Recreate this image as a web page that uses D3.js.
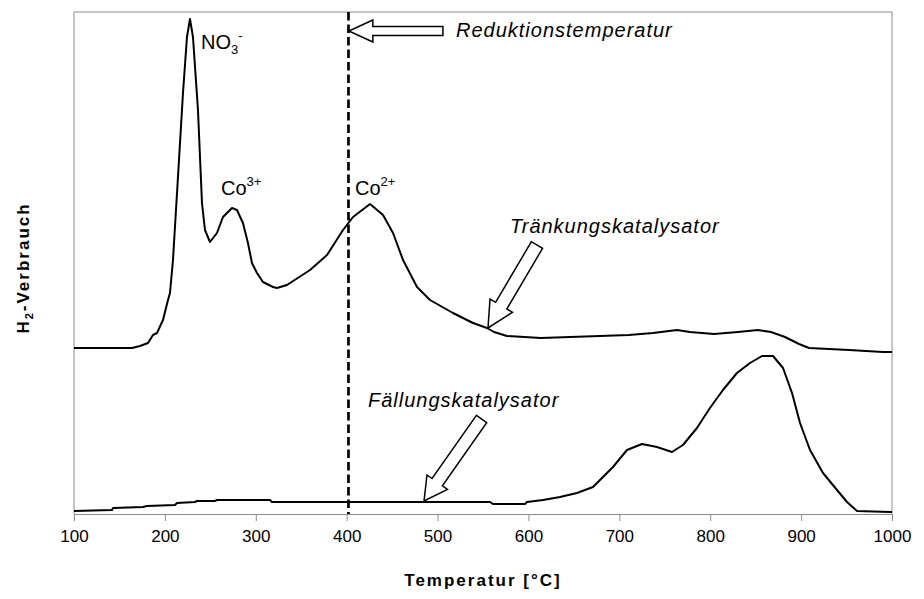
<!DOCTYPE html>
<html>
<head>
<meta charset="utf-8">
<script src="https://cdn.jsdelivr.net/npm/d3@7"></script>
<style>
  body { margin: 0; background: #fff; }
  text { font-family: "Liberation Sans", Arial, sans-serif; fill: #000; }
</style>
</head>
<body>
<div id="chart"></div>
<script>
  // TPR curves: temperature in °C, H2 uptake in arbitrary units
  var traenkT = [100,150.6,163.8,172.6,181.4,186.9,191.3,197.9,203.4,205.6,208.9,214.4,219.9,224.3,227.6,230.9,236.4,240.8,244.1,249.6,257.3,263.9,273.8,279.3,285.9,291.4,295.8,301.3,307.9,318.9,323.3,334.3,359.7,378.4,396,407,425.7,440,451,462,477.4,491.7,517,539,554.4,562.1,576.4,613.8,710.6,737,763.4,777.7,804.1,830.5,852.5,866.8,882.3,897.7,908.7,952.7,990.1,1000];
  var traenkV = [33.2,33.2,33.2,33.6,34.2,35.8,36.2,38.8,42.8,44.2,50.8,67.4,84.2,95.4,99,95.4,80.8,62.2,56.8,54.4,56.2,59.4,61.2,60.8,58.2,54.2,50.2,48.2,46.4,45.4,45.2,45.8,48.8,51.8,56.8,59.4,62,59.8,56.2,50.8,45.4,42.8,40.2,38.2,37.2,36.4,35.6,35.2,35.8,36.2,36.8,36.4,36,36.4,36.8,36.4,35.4,34,33.2,32.8,32.4,32.4];

  var faellT = [100,141.8,142.9,175.9,180.3,211.1,213.3,233.1,235.3,255.1,257.3,315.6,317.8,557.7,561,596.2,598.4,616,634.7,653.4,671,678.7,693,708.4,724.9,741.4,757.9,770,785.4,799.7,814,829.4,843.8,857,869.1,880.1,890,898.8,909.8,924.1,939.5,950.5,961.5,997.8,1000];
  var faellV = [0.6,0.8,1.2,1.4,1.6,1.8,2.2,2.4,2.6,2.6,2.8,2.8,2.4,2.4,2,2,2.4,2.8,3.4,4.2,5.4,6.8,9.4,12.8,14,13.4,12.4,13.8,17.2,21.2,24.8,28.2,30.2,31.6,31.6,29.2,24.2,18.2,12.8,8.2,4.8,2.4,0.6,0.4,0.4];

  var xTicks = [100,200,300,400,500,600,700,800,900,1000];
  var reductionTemp = 402;

  var W = 924, H = 599;
  var pLeft = 74, pRight = 892, pTop = 12, pBottom = 514;

  var x = d3.scaleLinear().domain([100, 1000]).range([pLeft, pRight]);
  var y = d3.scaleLinear().domain([0, 100.4]).range([pBottom, pTop]);

  var svg = d3.select("#chart").append("svg")
    .attr("width", W).attr("height", H);

  //frame (no y ticks in the original)
  svg.append("path")
    .attr("d", "M" + pLeft + "," + pBottom + "V" + pTop + "H" + pRight + "V" + pBottom)
    .attr("fill", "none").attr("stroke", "#8c8c8c").attr("stroke-width", 1);

  var xAxis = svg.append("g")
    .attr("transform", "translate(0," + pBottom + ")")
    .call(d3.axisBottom(x).tickValues(xTicks).tickSize(7).tickPadding(9).tickFormat(d3.format("d")));
  xAxis.select(".domain").attr("stroke", "#8c8c8c");
  xAxis.selectAll(".tick line").attr("stroke", "#8c8c8c");
  xAxis.selectAll(".tick text")
    .style("font-family", "'Liberation Sans', Arial, sans-serif")
    .style("font-size", "17px").attr("fill", "#000");

  svg.append("text")
    .attr("x", (pLeft + pRight) / 2).attr("y", 586)
    .attr("text-anchor", "middle")
    .style("font-size", "17px").style("font-weight", "bold").style("letter-spacing", "2px")
    .text("Temperatur [°C]");

  var yt = svg.append("text")
    .attr("transform", "translate(29,268) rotate(-90)")
    .attr("text-anchor", "middle")
    .style("font-size", "17px").style("font-weight", "bold").style("letter-spacing", "2px");
  yt.append("tspan").text("H");
  yt.append("tspan").attr("dy", 4).style("font-size", "11px").text("2");
  yt.append("tspan").attr("dy", -4).text("-Verbrauch");

  // reduction temperature
  svg.append("line")
    .attr("x1", x(reductionTemp)).attr("x2", x(reductionTemp))
    .attr("y1", pTop).attr("y2", pBottom)
    .attr("stroke", "#000").attr("stroke-width", 2.7)
    .attr("stroke-dasharray", "8.5,4");

  var line = d3.line()
    .x(function(d) { return x(d[0]); })
    .y(function(d) { return y(d[1]); });

  svg.append("path")
    .datum(d3.zip(traenkT, traenkV))
    .attr("d", line)
    .attr("fill", "none").attr("stroke", "#000").attr("stroke-width", 2)
    .attr("stroke-linejoin", "round");

  svg.append("path")
    .datum(d3.zip(faellT, faellV))
    .attr("d", line)
    .attr("fill", "none").attr("stroke", "#000").attr("stroke-width", 2)
    .attr("stroke-linejoin", "round");

  //block arrows: tail and tip in data units, widths in px
  function blockArrow(tail, tip, sw, hw, hl) {
    var x0 = x(tail[0]), y0 = y(tail[1]), x1 = x(tip[0]), y1 = y(tip[1]);
    var len = Math.sqrt((x1 - x0) * (x1 - x0) + (y1 - y0) * (y1 - y0));
    var ux = (x1 - x0) / len, uy = (y1 - y0) / len;
    var nx = -uy, ny = ux;
    var bx = x1 - ux * hl, by = y1 - uy * hl;
    var pts = [
      [x0 + nx * sw, y0 + ny * sw],
      [bx + nx * sw, by + ny * sw],
      [bx + nx * hw, by + ny * hw],
      [x1, y1],
      [bx - nx * hw, by - ny * hw],
      [bx - nx * sw, by - ny * sw],
      [x0 - nx * sw, y0 - ny * sw]
    ];
    svg.append("path")
      .attr("d", "M" + pts.join("L") + "Z")
      .attr("fill", "#fff").attr("stroke", "#000").attr("stroke-width", 1.5)
      .attr("stroke-linejoin", "miter");
  }

  blockArrow([505.9, 96.6], [402.4, 96.6], 4.5, 11, 24);
  blockArrow([609.4, 53.8], [555.5, 37.2], 6.5, 13, 26);
  blockArrow([548.4, 19], [485.1, 2.6], 6.3, 12.5, 23);

  function label(t, v, main, sub, sup, italic) {
    var tx = svg.append("text")
      .attr("x", x(t)).attr("y", y(v))
      .style("font-size", "20px");
    if (italic) tx.style("font-style", "italic").style("letter-spacing", "1px");
    tx.append("tspan").text(main);
    if (sub) tx.append("tspan").attr("dy", 5).style("font-size", "13px").text(sub);
    if (sup) tx.append("tspan").attr("dy", sub ? -14 : -9).style("font-size", "13px").text(sup);
  }

  label(239.7, 93, "NO", "3", "-");
  label(261.7, 63.8, "Co", null, "3+");
  label(409.2, 63.8, "Co", null, "2+");
  label(520.3, 95.4, "Reduktionstemperatur", null, null, true);
  label(579.7, 56.2, "Tränkungskatalysator", null, null, true);
  label(423.5, 21.4, "Fällungskatalysator", null, null, true);
</script>
</body>
</html>
